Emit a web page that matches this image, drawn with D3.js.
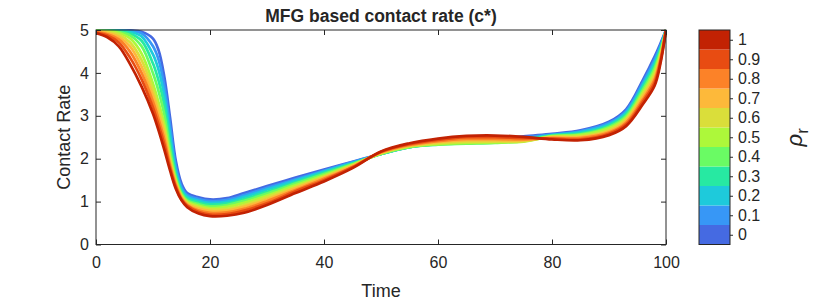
<!DOCTYPE html>
<html>
<head>
<meta charset="utf-8">
<script src="https://cdn.jsdelivr.net/npm/d3@7"></script>
<style>
  body { margin: 0; background: #fff; }
  text { font-family: Arial, "Liberation Sans", sans-serif; fill: #262626; }
</style>
</head>
<body>
<div id="chart"></div>
<script>
// Data: contact rate c* over time, one curve per rho_r value
const time = [0, 2, 4, 6, 8, 10, 11, 12, 13, 14, 15, 16, 18, 20, 23, 26, 30, 35, 40, 45, 50, 55, 60, 65, 70, 75, 80, 85, 90, 93, 96, 98, 99, 100];
const rhoValues = [0, 0.1, 0.2, 0.3, 0.4, 0.5, 0.6, 0.7, 0.8, 0.9, 1];

const contact00 = [5.00, 5.00, 5.00, 4.99, 4.96, 4.80, 4.52, 3.90, 2.95, 1.95, 1.42, 1.20, 1.10, 1.05, 1.08, 1.20, 1.36, 1.56, 1.75, 1.93, 2.11, 2.28, 2.36, 2.40, 2.44, 2.52, 2.58, 2.66, 2.86, 3.15, 3.85, 4.38, 4.68, 5.00];
const contact01 = [5.00, 5.00, 5.00, 4.98, 4.92, 4.62, 4.30, 3.68, 2.75, 1.82, 1.34, 1.15, 1.06, 1.01, 1.04, 1.15, 1.32, 1.52, 1.72, 1.92, 2.11, 2.27, 2.35, 2.38, 2.42, 2.49, 2.56, 2.64, 2.83, 3.11, 3.79, 4.31, 4.63, 5.00];
const contact02 = [4.99, 4.99, 4.99, 4.96, 4.85, 4.43, 4.06, 3.46, 2.55, 1.72, 1.28, 1.11, 1.02, 0.97, 1.00, 1.11, 1.28, 1.49, 1.70, 1.90, 2.11, 2.27, 2.34, 2.37, 2.40, 2.46, 2.55, 2.62, 2.80, 3.07, 3.73, 4.24, 4.58, 5.00];
const contact03 = [4.99, 4.99, 4.97, 4.92, 4.75, 4.22, 3.81, 3.24, 2.36, 1.63, 1.23, 1.07, 0.98, 0.93, 0.96, 1.06, 1.23, 1.45, 1.67, 1.89, 2.11, 2.27, 2.33, 2.36, 2.38, 2.43, 2.54, 2.59, 2.77, 3.03, 3.68, 4.18, 4.54, 5.00];
const contact04 = [4.98, 4.98, 4.95, 4.87, 4.62, 3.99, 3.56, 3.02, 2.20, 1.56, 1.19, 1.03, 0.94, 0.89, 0.92, 1.02, 1.19, 1.42, 1.64, 1.87, 2.11, 2.27, 2.33, 2.35, 2.37, 2.41, 2.53, 2.57, 2.74, 2.99, 3.62, 4.11, 4.49, 5.00];
const contact05 = [4.98, 4.97, 4.93, 4.80, 4.45, 3.75, 3.30, 2.80, 2.05, 1.50, 1.15, 1.00, 0.90, 0.85, 0.88, 0.97, 1.14, 1.38, 1.61, 1.86, 2.12, 2.28, 2.34, 2.37, 2.38, 2.40, 2.52, 2.55, 2.71, 2.95, 3.56, 4.04, 4.44, 5.00];
const contact06 = [4.97, 4.95, 4.89, 4.71, 4.30, 3.61, 3.17, 2.68, 1.98, 1.46, 1.13, 0.97, 0.87, 0.82, 0.83, 0.92, 1.10, 1.34, 1.58, 1.84, 2.13, 2.29, 2.36, 2.39, 2.40, 2.41, 2.51, 2.52, 2.67, 2.92, 3.51, 3.97, 4.39, 5.00];
const contact07 = [4.96, 4.93, 4.84, 4.61, 4.15, 3.47, 3.04, 2.56, 1.91, 1.42, 1.10, 0.95, 0.83, 0.78, 0.79, 0.88, 1.05, 1.31, 1.56, 1.83, 2.14, 2.31, 2.39, 2.43, 2.43, 2.43, 2.50, 2.50, 2.64, 2.88, 3.45, 3.90, 4.34, 5.00];
const contact08 = [4.95, 4.90, 4.78, 4.49, 4.00, 3.33, 2.91, 2.44, 1.85, 1.38, 1.08, 0.92, 0.79, 0.74, 0.75, 0.83, 1.01, 1.27, 1.53, 1.81, 2.15, 2.32, 2.41, 2.46, 2.46, 2.45, 2.48, 2.48, 2.61, 2.84, 3.39, 3.84, 4.30, 5.00];
const contact09 = [4.94, 4.87, 4.71, 4.35, 3.85, 3.19, 2.78, 2.32, 1.78, 1.34, 1.05, 0.90, 0.76, 0.70, 0.71, 0.79, 0.96, 1.24, 1.50, 1.80, 2.16, 2.34, 2.44, 2.50, 2.50, 2.48, 2.47, 2.45, 2.58, 2.80, 3.34, 3.77, 4.25, 5.00];
const contact10 = [4.93, 4.83, 4.62, 4.20, 3.68, 3.05, 2.65, 2.20, 1.72, 1.30, 1.03, 0.87, 0.72, 0.66, 0.67, 0.74, 0.92, 1.20, 1.47, 1.78, 2.17, 2.36, 2.47, 2.53, 2.54, 2.51, 2.45, 2.43, 2.55, 2.76, 3.28, 3.70, 4.20, 5.00];

const series = [contact00, contact01, contact02, contact03, contact04, contact05, contact06, contact07, contact08, contact09, contact10];

const xTicks = [0, 20, 40, 60, 80, 100];
const yTicks = [0, 1, 2, 3, 4, 5];

// colormap, one colour per rho level
const palette = ['#456AE2', '#3797F6', '#1ECADB', '#27E9A2', '#6AFB64', '#ADF83A', '#DADE3A', '#FDB93A', '#FC8228', '#E84C12', '#C22203'];

// Base positioning
var margin = { top: 30, right: 174, bottom: 55.5, left: 96 },
  width = 840 - margin.left - margin.right,
  height = 300 - margin.top - margin.bottom;

const svg = d3.select('#chart')
  .append('svg')
  .attr('width', 840)
  .attr('height', 300)
  .append('g')
  .attr('transform', 'translate(' + margin.left + ',' + margin.top + ')');

const x = d3.scaleLinear().domain([0, 100]).range([0, width]);
const y = d3.scaleLinear().domain([0, 5]).range([height, 0]);

// clip lines to the axes box
svg.append('clipPath').attr('id', 'plot-clip')
  .append('rect').attr('x', 0).attr('y', -1).attr('width', width + 1).attr('height', height + 1);

const line = d3.line()
  .x((d, i) => x(time[i]))
  .y(d => y(d))
  .curve(d3.curveCatmullRom.alpha(0.5));

svg.append('g')
  .attr('clip-path', 'url(#plot-clip)')
  .selectAll('path')
  .data(series)
  .enter()
  .append('path')
  .attr('fill', 'none')
  .attr('stroke', (d, i) => palette[i])
  .attr('stroke-width', 2.7)
  .attr('stroke-linejoin', 'round')
  .attr('d', d => line(d));

// axes (MATLAB style: ticks inside, box all round)
const styleAxis = g => {
  g.selectAll('.domain').remove();
  g.selectAll('line').attr('stroke', '#262626');
  g.selectAll('text').style('font-size', '16px').attr('fill', '#262626');
};
svg.append('g')
  .attr('transform', 'translate(0,' + height + ')')
  .call(d3.axisBottom(x).tickValues(xTicks).tickSize(-5).tickPadding(12))
  .call(styleAxis);
svg.append('g')
  .call(d3.axisTop(x).tickValues(xTicks).tickSize(-5).tickFormat(''))
  .call(styleAxis);
svg.append('g')
  .call(d3.axisLeft(y).tickValues(yTicks).tickSize(-5).tickPadding(7).tickFormat(d3.format('d')))
  .call(styleAxis);
svg.append('g')
  .attr('transform', 'translate(' + width + ',0)')
  .call(d3.axisRight(y).tickValues(yTicks).tickSize(-5).tickFormat(''))
  .call(styleAxis);
svg.append('rect')
  .attr('width', width).attr('height', height)
  .attr('fill', 'none').attr('stroke', '#262626').attr('stroke-width', 1);

// labels
svg.append('text')
  .attr('x', width / 2).attr('y', height + 52)
  .attr('text-anchor', 'middle')
  .style('font-size', '18px')
  .text('Time');
svg.append('text')
  .attr('transform', 'translate(-26,' + height / 2 + ') rotate(-90)')
  .attr('text-anchor', 'middle')
  .style('font-size', '18px')
  .text('Contact Rate');
svg.append('text')
  .attr('x', width / 2).attr('y', -8)
  .attr('text-anchor', 'middle')
  .style('font-size', '17.5px')
  .style('font-weight', 'bold')
  .text('MFG based contact rate (c*)');

// colorbar
const cb = svg.append('g').attr('transform', 'translate(603,0)');
const cbWidth = 31;
const cy = d3.scaleLinear().domain([-0.05, 1.05]).range([height, 0]);
cb.selectAll('rect.band')
  .data(rhoValues)
  .enter()
  .append('rect')
  .attr('class', 'band')
  .attr('x', 0)
  .attr('y', d => cy(d + 0.05))
  .attr('width', cbWidth)
  .attr('height', d => cy(d - 0.05) - cy(d + 0.05))
  .attr('fill', (d, i) => palette[i]);
cb.append('rect')
  .attr('width', cbWidth).attr('height', height)
  .attr('fill', 'none').attr('stroke', '#262626').attr('stroke-width', 1);
cb.append('g')
  .attr('transform', 'translate(' + cbWidth + ',0)')
  .call(d3.axisRight(cy).tickValues(rhoValues).tickSize(3).tickPadding(5).tickFormat(d3.format('~g')))
  .call(styleAxis);

// rho_r label
const rl = svg.append('text')
  .attr('transform', 'translate(706,' + height / 2 + ') rotate(-90)')
  .attr('text-anchor', 'middle')
  .style('font-size', '22px');
rl.append('tspan').style('font-style', 'italic').text('ρ');
rl.append('tspan').attr('dy', 6).style('font-size', '17px').text('r');
</script>
</body>
</html>
